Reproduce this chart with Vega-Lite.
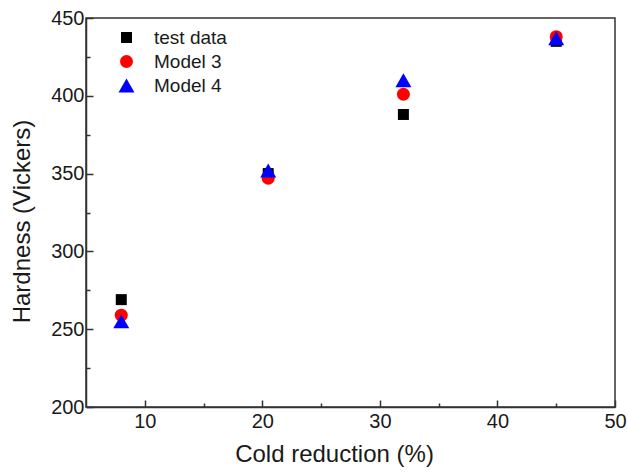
{
  "$schema": "https://vega.github.io/schema/vega-lite/v6.json",
  "width": 529,
  "height": 389,
  "autosize": {"type": "none"},
  "padding": {"left": 86, "top": 18, "right": 13, "bottom": 68},
  "background": "white",
  "config": {
    "font": "Liberation Sans",
    "view": {"stroke": "#333333", "strokeWidth": 1.5},
    "axis": {
      "grid": false,
      "domainColor": "#333333",
      "domainWidth": 1.5,
      "tickColor": "#333333",
      "tickWidth": 1.5,
      "labelColor": "#1a1a1a",
      "labelFontSize": 20,
      "labelFont": "Liberation Sans",
      "labelOverlap": false,
      "labelFlush": false,
      "titleColor": "#1a1a1a",
      "titleFontSize": 24,
      "titleFont": "Liberation Sans",
      "titleFontWeight": "normal"
    }
  },
  "data": {
    "values": [
      {"reduction": 8.0, "hardness": 269, "series": "test data"},
      {"reduction": 20.5, "hardness": 350, "series": "test data"},
      {"reduction": 32.0, "hardness": 388, "series": "test data"},
      {"reduction": 45.0, "hardness": 435, "series": "test data"},
      {"reduction": 8.0, "hardness": 259, "series": "Model 3"},
      {"reduction": 20.5, "hardness": 347, "series": "Model 3"},
      {"reduction": 32.0, "hardness": 401, "series": "Model 3"},
      {"reduction": 45.0, "hardness": 438, "series": "Model 3"},
      {"reduction": 8.0, "hardness": 255, "series": "Model 4"},
      {"reduction": 20.5, "hardness": 352, "series": "Model 4"},
      {"reduction": 32.0, "hardness": 410, "series": "Model 4"},
      {"reduction": 45.0, "hardness": 437, "series": "Model 4"}
    ]
  },
  "mark": {"type": "point", "filled": true, "opacity": 1},
  "encoding": {
    "x": {
      "field": "reduction",
      "type": "quantitative",
      "scale": {"domain": [5, 50], "nice": false, "zero": false},
      "axis": {
        "title": "Cold reduction (%)",
        "values": [10, 15, 20, 25, 30, 35, 40, 45, 50],
        "labelExpr": "datum.value % 10 === 0 ? datum.label : ''",
        "tickSize": {"condition": {"test": "datum.value % 10 === 0", "value": -7}, "value": -4},
        "labelPadding": 11,
        "titlePadding": 8,
        "titleX": 248
      }
    },
    "y": {
      "field": "hardness",
      "type": "quantitative",
      "scale": {"domain": [200, 450], "nice": false, "zero": false},
      "axis": {
        "title": "Hardness (Vickers)",
        "values": [200, 225, 250, 275, 300, 325, 350, 375, 400, 425, 450],
        "labelExpr": "datum.value % 50 === 0 ? datum.label : ''",
        "tickSize": {"condition": {"test": "datum.value % 50 === 0", "value": -7}, "value": -4},
        "labelPadding": 9,
        "titlePadding": 16,
        "titleY": 203
      }
    },
    "color": {
      "field": "series",
      "type": "nominal",
      "sort": null,
      "scale": {"domain": ["test data", "Model 3", "Model 4"], "range": ["#000000", "#ff0000", "#0000ff"]},
      "legend": {
        "title": null,
        "orient": "none",
        "legendX": 31,
        "legendY": 10,
        "labelFontSize": 19,
        "labelFont": "Liberation Sans",
        "labelColor": "#1a1a1a",
        "symbolStrokeWidth": 0,
        "labelOffset": 18,
        "rowPadding": 4
      }
    },
    "shape": {
      "field": "series",
      "type": "nominal",
      "sort": null,
      "scale": {"domain": ["test data", "Model 3", "Model 4"], "range": ["square", "circle", "triangle-up"]}
    },
    "size": {
      "field": "series",
      "type": "nominal",
      "sort": null,
      "scale": {"type": "ordinal", "domain": ["test data", "Model 3", "Model 4"], "range": [121, 169, 256]}
    }
  }
}
